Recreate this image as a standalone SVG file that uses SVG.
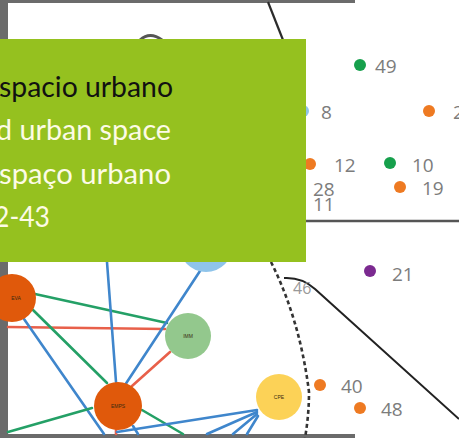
<svg xmlns="http://www.w3.org/2000/svg" width="459" height="438" viewBox="0 0 459 438">
<style>
.frame{fill:#6b6b6b}
.e{fill:none;stroke-width:2.6;stroke-linecap:round}
.b{stroke:#3f86cc}
.g{stroke:#24a066}
.r{stroke:#e8604a}
.lbl{font-family:"Open Sans","Liberation Sans",sans-serif;font-size:19px;fill:#7c7c7c}
.nl{font-family:"Liberation Sans",sans-serif;font-size:5px;fill:#3a2a10;text-anchor:middle}
.t{font-family:Lato,"Open Sans",sans-serif;font-size:29px}
</style>
<rect x="0" y="0" width="459" height="438" fill="#ffffff"/>
<rect class="frame" x="0" y="0" width="355" height="3"/>
<rect class="frame" x="0" y="0" width="8" height="438"/>
<rect class="frame" x="0" y="434" width="355" height="4"/>

<g id="connectors">
<path class="e g" d="M35 294 L167 323"/>
<path class="e r" d="M8 327 L165 329"/>
<path class="e b" d="M200 271 L125 385"/>
<path class="e r" d="M170 352 L132 386"/>
<path class="e b" d="M107 262 L116 382"/>
<path class="e g" d="M32 309 L107 383"/>
<path class="e b" d="M24 319 L104 434"/>
<path class="e g" d="M8 432 L92 408"/>
<path class="e g" d="M142 410 L183 434"/>
<path class="e r" d="M116 428 L116 434"/>
<path class="e b" d="M133 426 L138 434"/>
<path class="e b" d="M257 410 L117 432"/>
<path class="e b" d="M257 412 L207 434"/>
<path class="e b" d="M257 414 L233 434"/>
<path class="e b" d="M258 416 L247 434"/>
<path fill="none" stroke="#2b2b2b" stroke-width="2.2" d="M268 2 L283 40"/>
<path fill="none" stroke="#555" stroke-width="3" d="M140 40 Q150 31 162 40"/>
<path fill="none" stroke="#555" stroke-width="2.5" d="M306 221 L459 221"/>
<path fill="none" stroke="#333" stroke-width="2.6" stroke-dasharray="4 3" d="M271 262 Q300 320 309 392 Q309 415 305 438"/>
<path fill="none" stroke="#222" stroke-width="2" d="M284 278 Q302 277 315 289 L459 419"/>
</g>

<g id="node-left"><circle cx="12" cy="298" r="24" fill="#e0590b"/><text class="nl" x="16" y="300">EVA</text></g>
<g id="node-imm"><circle cx="188" cy="336" r="23" fill="#93c88d"/><text class="nl" x="188" y="338">IMM</text></g>
<g id="node-emps"><circle cx="118" cy="406" r="24" fill="#e0590b"/><text class="nl" x="118" y="408">EMPS</text></g>
<g id="node-blue"><circle cx="206" cy="245" r="27" fill="#8fc4ea"/></g>
<g id="node-cpe"><circle cx="279" cy="397" r="23" fill="#fcd257"/><text class="nl" x="279" y="399">CPE</text></g>

<g id="p49"><circle cx="360" cy="65" r="6" fill="#16a04c"/><text class="lbl" x="375" y="73">49</text></g>
<g id="p8"><circle cx="303" cy="111" r="6" fill="#8fc4ea"/><text class="lbl" x="321" y="119">8</text></g>
<g id="p2"><circle cx="429" cy="111" r="6" fill="#ee7a22"/><text class="lbl" x="453" y="119">2</text></g>
<g id="p12"><circle cx="310" cy="164" r="6" fill="#ee7a22"/><text class="lbl" x="334" y="172">12</text></g>
<g id="p10"><circle cx="390" cy="163" r="6" fill="#16a04c"/><text class="lbl" x="412" y="172">10</text></g>
<g id="p19"><circle cx="400" cy="187" r="6" fill="#ee7a22"/><text class="lbl" x="422" y="195">19</text></g>
<g id="p28"><text class="lbl" x="313" y="196">28</text></g>
<g id="p11"><text class="lbl" x="313" y="211">11</text></g>
<g id="p21"><circle cx="370" cy="271" r="6" fill="#7b2a90"/><text class="lbl" x="392" y="281">21</text></g>
<g id="p46"><text class="lbl" x="293" y="294" style="font-size:16px;fill:#999">46</text></g>
<g id="p40"><circle cx="320" cy="385" r="6" fill="#ee7a22"/><text class="lbl" x="341" y="393">40</text></g>
<g id="p48"><circle cx="360" cy="408" r="6" fill="#ee7a22"/><text class="lbl" x="381" y="416">48</text></g>

<g id="title-box">
<rect x="0" y="39" width="306" height="223" fill="#95c11f"/>
<text class="t" x="-1" y="97" fill="#111" textLength="174" lengthAdjust="spacingAndGlyphs">spacio urbano</text>
<text class="t" x="-4" y="140" fill="#fdfbe6" textLength="175" lengthAdjust="spacingAndGlyphs">d urban space</text>
<text class="t" x="-1" y="184" fill="#fdfbe6" textLength="172" lengthAdjust="spacingAndGlyphs">spaço urbano</text>
<text class="t" x="-6" y="227" fill="#fdfbe6" textLength="56" lengthAdjust="spacingAndGlyphs">2-43</text>
</g>
</svg>
